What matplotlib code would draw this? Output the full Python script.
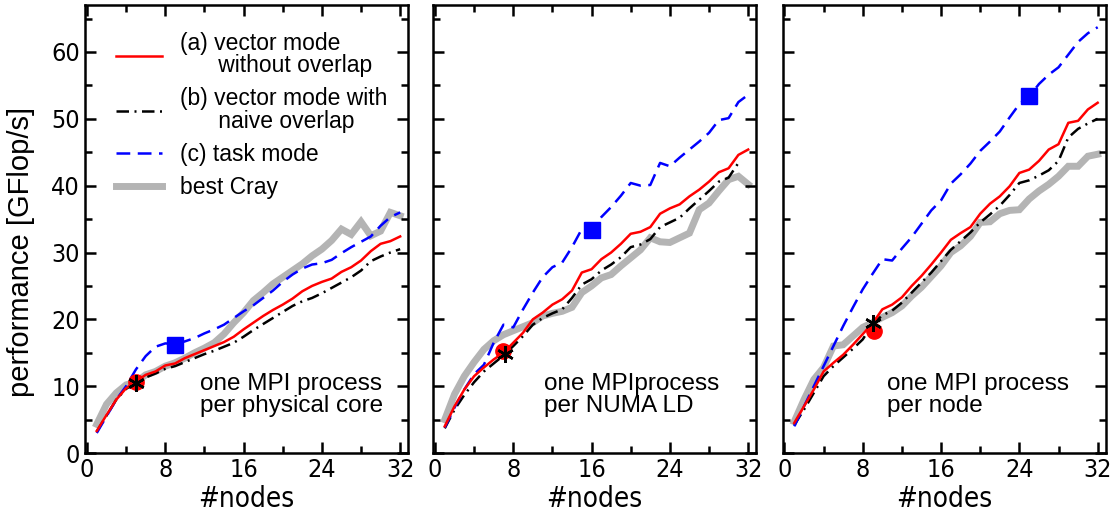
import numpy as np
import matplotlib
matplotlib.use("Agg")
import matplotlib.pyplot as plt

# node counts
nodes = list(range(1, 33))

# --- panel 1: one MPI process per physical core ---
core_a = [3.3, 5.7, 8.0, 9.7, 10.7, 11.7, 12.2, 13.1, 13.4, 14.2, 14.8, 15.4,
          16.0, 16.6, 17.4, 18.5, 19.5, 20.5, 21.4, 22.2, 23.1, 24.2, 25.0,
          25.6, 26.1, 27.1, 27.8, 28.8, 30.2, 31.3, 31.7, 32.4]
core_b = [3.2, 5.6, 8.0, 9.6, 10.5, 11.3, 11.9, 12.6, 13.0, 13.6, 14.2, 14.8,
          15.3, 15.9, 16.5, 17.4, 18.4, 19.3, 20.2, 21.1, 22.0, 22.7, 23.2,
          23.9, 24.7, 25.5, 26.3, 27.3, 28.7, 29.4, 30.0, 30.5]
core_c = [3.0, 5.5, 8.0, 10.0, 12.5, 14.5, 15.9, 16.4, 16.3, 16.7, 17.2, 17.9,
          18.5, 19.2, 20.2, 21.2, 22.1, 23.2, 24.3, 25.6, 26.7, 27.6, 28.2,
          28.4, 28.9, 29.9, 30.8, 31.6, 32.4, 34.0, 35.3, 36.0]
core_cray = [4.3, 7.3, 9.0, 10.2, 10.6, 11.7, 12.2, 13.0, 13.5, 14.2, 15.0,
             15.7, 16.5, 17.8, 19.5, 21.0, 22.8, 24.0, 25.3, 26.3, 27.3, 28.3,
             29.5, 30.5, 31.8, 33.5, 32.7, 34.6, 32.5, 33.2, 36.0, 35.5]

# --- panel 2: one MPI process per NUMA LD ---
numa_a = [4.0, 7.0, 9.5, 11.5, 12.8, 14.0, 15.0, 16.5, 18.0, 20.0, 21.0, 22.2,
          23.0, 24.3, 27.0, 27.5, 29.0, 30.0, 31.3, 32.8, 33.1, 33.8, 35.8,
          36.6, 37.2, 38.4, 39.4, 40.6, 42.0, 42.6, 44.6, 45.4]
numa_b = [3.7, 6.5, 8.7, 10.6, 12.2, 13.4, 14.6, 16.0, 17.5, 19.2, 20.2, 20.9,
          21.5, 23.2, 25.2, 26.0, 27.3, 28.2, 29.3, 30.8, 31.2, 32.0, 33.8,
          34.5, 35.2, 36.6, 37.9, 39.2, 40.6, 41.2, 43.4, np.nan]
numa_c = [3.8, 6.8, 9.5, 11.8, 13.2, 16.5, 19.2, 18.8, 21.5, 24.0, 26.3, 27.8,
          28.5, 30.8, 33.5, 33.4, 35.3, 36.8, 38.5, 40.4, 40.0, 40.1, 43.4,
          42.9, 44.2, 45.4, 46.6, 47.9, 49.8, 50.1, 52.5, 53.6]
numa_cray = [5.0, 8.8, 11.5, 13.6, 15.5, 16.8, 17.7, 18.3, 18.9, 19.5, 20.5,
             20.9, 21.2, 21.8, 24.0, 25.0, 26.2, 26.7, 28.0, 29.2, 30.4, 32.2,
             31.6, 31.5, 32.2, 32.9, 36.4, 37.4, 39.2, 40.9, 41.4, 40.2]

# --- panel 3: one MPI process per node ---
node_a = [4.5, 7.0, 9.5, 12.2, 13.5, 14.7, 16.2, 17.8, 19.4, 21.5, 22.2, 23.3,
          25.0, 26.5, 28.2, 30.0, 31.9, 32.9, 33.8, 35.8, 37.3, 38.4, 39.9,
          41.9, 42.4, 43.7, 45.4, 46.2, 49.4, 49.7, 51.4, 52.4]
node_b = [4.2, 6.5, 9.0, 11.5, 13.0, 14.3, 15.6, 17.0, 19.3, 20.6, 21.3, 22.5,
          24.0, 25.5, 27.0, 28.7, 30.4, 31.7, 33.0, 34.5, 35.7, 37.0, 38.6,
          40.4, 40.8, 41.5, 42.3, 43.7, 47.2, 48.5, 49.3, 50.0]
node_c = [4.0, 7.0, 10.0, 13.0, 16.0, 19.0, 21.8, 24.5, 26.8, 29.0, 28.8, 30.6,
          32.3, 34.3, 36.3, 37.8, 40.3, 41.7, 43.3, 45.2, 46.6, 48.1, 50.2,
          52.2, 53.3, 55.2, 56.6, 57.7, 59.6, 61.5, 62.8, 63.7]
node_cray = [4.7, 8.0, 11.0, 12.8, 16.0, 16.2, 17.5, 18.8, 19.5, 20.3, 21.0,
             22.0, 23.5, 24.8, 26.4, 28.0, 30.0, 31.0, 32.4, 34.5, 34.6, 35.8,
             36.3, 36.4, 38.0, 39.2, 40.2, 41.4, 42.9, 42.9, 44.4, 44.7]

# highlighted points (x, y) per panel: red circle, black asterisk, blue square
circle_pts = [(5, 10.7), (7, 15.3), (9.1, 18.2)]
star_pts = [(5, 10.5), (7.2, 14.8), (9, 19.5)]
square_pts = [(9, 16.2), (16, 33.4), (25, 53.4)]

panel_text = ["one MPI process\nper physical core",
              "one MPIprocess\nper NUMA LD",
              "one MPI process\nper node"]
text_x = [11.6, 11.1, 10.5]

labels = ["(a) vector mode\n      without overlap",
          "(b) vector mode with\n      naive overlap",
          "(c) task mode",
          "best Cray"]

panels = [(core_a, core_b, core_c, core_cray),
          (numa_a, numa_b, numa_c, numa_cray),
          (node_a, node_b, node_c, node_cray)]

plt.rcParams['font.family'] = ['Liberation Sans', 'DejaVu Sans']
narrow = dict(family='DejaVu Sans', stretch='condensed')

fig = plt.figure(figsize=(11.14, 5.16), dpi=100)
lefts = [85 / 1114, 433 / 1114, 782.5 / 1114]
axes = [fig.add_axes([l, 0.122, 323 / 1114, 0.868]) for l in lefts]

for i, ax in enumerate(axes):
    a, b, c, cray = panels[i]
    h_cray, = ax.plot(nodes, cray, color="#b4b4b4", lw=5.0,
                      solid_joinstyle="miter", zorder=1)
    h_b, = ax.plot(nodes, b, color="black", lw=1.8,
                   dashes=(5.0, 2.2, 0.8, 2.2), zorder=2)
    h_c, = ax.plot(nodes, c, color="#0000ff", lw=1.8,
                   dashes=(5.5, 3.0), zorder=3)
    h_a, = ax.plot(nodes, a, color="#ff0000", lw=1.8, zorder=4)

    ax.plot(*circle_pts[i], "o", color="#ff0000", ms=11, zorder=5)
    ax.plot(*star_pts[i], marker=(6, 2, 0), color="black", ms=12, mew=1.8,
            ls="none", zorder=6)
    ax.plot(*square_pts[i], "s", color="#0000ff", ms=11, zorder=5)

    ax.text(text_x[i], 8.7, panel_text[i], fontsize=17.5, ha="left",
            va="center", linespacing=1.0)

    ax.set_xlim(-0.2, 32.8)
    ax.set_ylim(0, 67)
    ax.set_xticks([0, 8, 16, 24, 32])
    ax.set_xticks([4, 12, 20, 28], minor=True)
    ax.set_yticks(range(0, 61, 10))
    ax.set_yticks(range(5, 66, 10), minor=True)
    ax.tick_params(which="both", direction="in", top=True, right=True,
                   width=1.8, labelsize=18)
    ax.tick_params(which="major", length=8)
    ax.tick_params(which="minor", length=5)
    for lab in ax.get_xticklabels() + ax.get_yticklabels():
        lab.set_fontfamily(narrow['family'])
        lab.set_fontstretch(narrow['stretch'])
    for sp in ax.spines.values():
        sp.set_linewidth(1.8)
    ax.set_xlabel("#nodes", fontsize=20, labelpad=2, **narrow)
    if i > 0:
        ax.set_yticklabels([])
    else:
        ax.set_ylabel("performance [GFlop/s]", fontsize=21)
        ax.yaxis.set_label_coords(-0.155, 0.449)
        leg = ax.legend([h_a, h_b, h_c, h_cray], labels, loc="upper left",
                        bbox_to_anchor=(0.095, 0.94), frameon=False,
                        prop=dict(size=16.5), handlelength=2.0,
                        handletextpad=0.8, labelspacing=0.45,
                        borderpad=0, borderaxespad=0)
        for t in leg.get_texts():
            t.set_linespacing(0.95)

fig.savefig("out.png", dpi=100)
